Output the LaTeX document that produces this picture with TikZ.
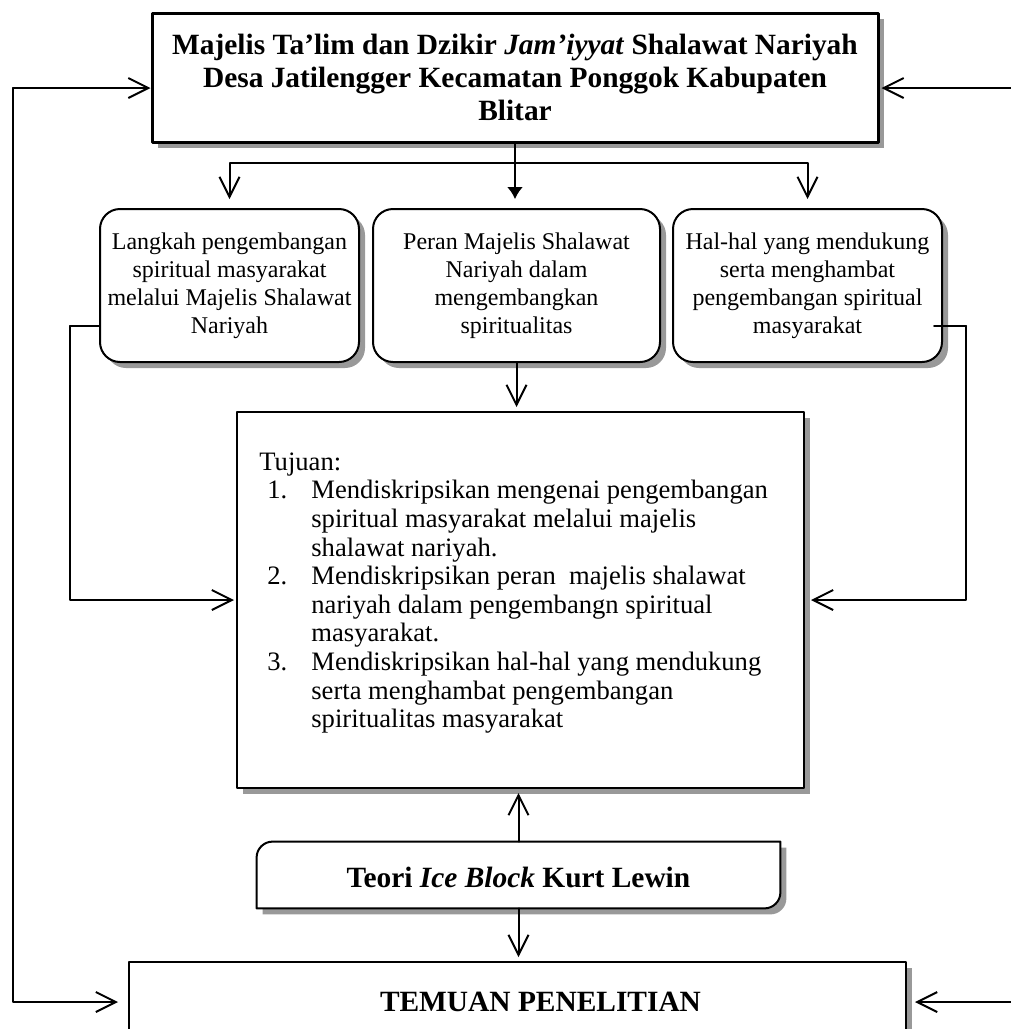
\documentclass[tikz,border=0pt]{standalone}
\usepackage{fontspec}
\setmainfont{Liberation Serif}
\usetikzlibrary{arrows.meta,shadows}

\tikzset{
  kotak/.style={draw,line width=1pt,fill=white,inner sep=0pt,
    general shadow={fill=black!40,shadow xshift=3pt,shadow yshift=-3pt}},
  kotakbulat/.style={kotak,rounded corners=10pt,align=center,
    font=\fontsize{12}{14}\selectfont},
  tebal/.style={font=\fontsize{14.7}{16.5}\selectfont\bfseries},
  garis/.style={line width=1pt},
  panah/.style={line width=1pt,-{Straight Barb[length=10pt,width=10pt]}},
  panahpenuh/.style={line width=1pt,-{Latex[length=6pt,width=8pt]}},
}

\begin{document}
\begin{tikzpicture}[x=0.5pt,y=-0.5pt,line cap=round,line join=round]
\useasboundingbox (0,0) rectangle (1011,1029);

%main boxes
\node[kotak,tebal,line width=1.5pt,minimum width=363pt,minimum height=64.5pt,align=center] (judul) at (515,77.5)
  {Majelis Ta’lim dan Dzikir \textit{Jam’iyyat} Shalawat Nariyah\\
   Desa Jatilengger Kecamatan Ponggok Kabupaten\\Blitar};

\node[kotakbulat,minimum width=129.5pt,minimum height=76.5pt] (langkah) at (229.5,285.5)
  {Langkah pengembangan\\spiritual masyarakat\\melalui Majelis Shalawat\\Nariyah};
\node[kotakbulat,minimum width=143.5pt,minimum height=76.5pt] (peran) at (516.5,285.5)
  {Peran Majelis Shalawat\\Nariyah dalam\\mengembangkan\\spiritualitas};
\node[kotakbulat,minimum width=134.5pt,minimum height=76.5pt] (halhal) at (807.5,285.5)
  {Hal-hal yang mendukung\\serta menghambat\\pengembangan spiritual\\masyarakat};

\node[kotak,minimum width=283.5pt,minimum height=188pt] (tujuan) at (520.5,600) {};
\node[anchor=west,inner sep=0pt,align=left,font=\fontsize{13.3}{14.3}\selectfont] (tujuantks) at (259,593)
  {Tujuan:\\
   \hspace*{4pt}\makebox[22pt][l]{1.}Mendiskripsikan mengenai pengembangan\\
   \hspace*{26pt}spiritual masyarakat melalui majelis\\
   \hspace*{26pt}shalawat nariyah.\\
   \hspace*{4pt}\makebox[22pt][l]{2.}Mendiskripsikan peran \ majelis shalawat\\
   \hspace*{26pt}nariyah dalam pengembangn spiritual\\
   \hspace*{26pt}masyarakat.\\
   \hspace*{4pt}\makebox[22pt][l]{3.}Mendiskripsikan hal-hal yang mendukung\\
   \hspace*{26pt}serta menghambat pengembangan\\
   \hspace*{26pt}spiritualitas masyarakat};

%teori box, two corners rounded
\node[inner sep=0pt,minimum width=261.5pt,minimum height=33pt] (teori) at (518.5,875) {};
\fill[black!40] ([shift={(3pt,-3pt)}]teori.south west) [rounded corners=8pt] -- ([shift={(3pt,-3pt)}]teori.north west)
  [sharp corners] -- ([shift={(3pt,-3pt)}]teori.north east) [rounded corners=8pt] -- ([shift={(3pt,-3pt)}]teori.south east)
  [sharp corners] -- cycle;
\draw[garis,fill=white] (teori.south west) [rounded corners=8pt] -- (teori.north west)
  [sharp corners] -- (teori.north east) [rounded corners=8pt] -- (teori.south east)
  [sharp corners] -- cycle;
\node[tebal,inner sep=0pt] (teoritks) at ([yshift=-1pt]teori)
  {Teori \textit{Ice Block} Kurt Lewin};

\node[kotak,tebal,minimum width=388.5pt,minimum height=40pt] (temuan) at (517.5,1002)
  {\hspace*{23pt}TEMUAN PENELITIAN};

%connectors
\coordinate (kiri) at (13,88);
\coordinate (kanan) at (1011,88);
\coordinate (kananbawah) at (1011,1002);
\coordinate (cabang) at (515,163);
\coordinate (kirilangkah) at (70,326);
\coordinate (kananhal) at (966,326);

\draw[panah] (kiri) -- (kiri -| judul.west);
\draw[panah,shorten >=5pt] (kiri) |- (temuan.west);
\draw[panah,shorten >=1pt] (kanan) -- (kanan -| judul.east);
\draw[panah,shorten >=4pt] (kananbawah) -- (temuan.east);

\draw[garis] (judul.south) -- (cabang);
\draw[panah,shorten >=4.5pt] (cabang) -| (langkah.north);
\draw[panahpenuh,shorten >=4.5pt] (cabang) -- (cabang |- peran.north);
\draw[panah,shorten >=4.5pt] (cabang) -| (halhal.north);

\draw[panah,shorten >=2pt] (peran.south) -- (peran.south |- tujuan.north);
\draw[garis] (kirilangkah) -- (kirilangkah -| langkah.west);
\draw[panah,shorten >=1pt] (kirilangkah) |- (tujuan.west);
\draw[garis] (kananhal) -- ([xshift=-4.5pt]kananhal -| halhal.east);
\draw[panah,shorten >=3pt] (kananhal) |- (tujuan.east);

\draw[panah,shorten >=2pt] (teori.north) -- (teori.north |- tujuan.south);
\draw[panah,shorten >=2pt] (teori.south) -- (teori.south |- temuan.north);
\end{tikzpicture}
\end{document}
